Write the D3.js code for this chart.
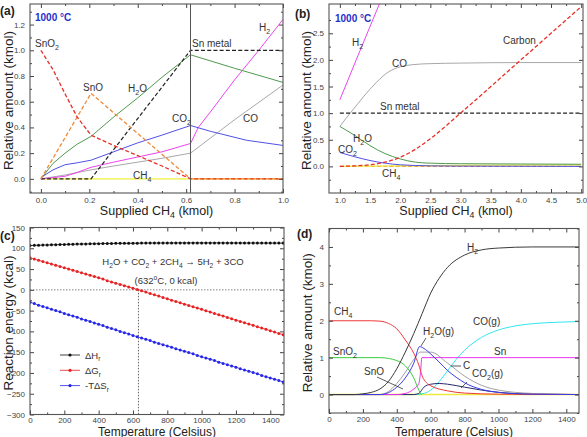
<!DOCTYPE html>
<html>
<head>
<meta charset="utf-8">
<script src="https://cdn.jsdelivr.net/npm/d3@7"></script>
<style>
  body { margin: 0; background: #fff; }
  svg { display: block; }
  text { font-family: "Liberation Sans", Arial, sans-serif; }
</style>
</head>
<body>
<svg id="chart" width="587" height="437"></svg>
<script>
// ---- panel (a): 1000 C, supplied CH4 0..1 kmol ----
const aSnO2 = [[0,1.0],[0.05,0.85],[0.1,0.66],[0.15,0.48],[0.207,0.34],[0.3,0.26],[0.4,0.18],[0.5,0.1],[0.618,0.0],[1.0,0.0]];
const aSnO  = [[0,0],[0.207,0.665],[0.618,0],[1.0,0]];
const aSn   = [[0,0],[0.207,0],[0.618,1.0],[1.0,1.0]];
const aH2O  = [[0,0],[0.05,0.12],[0.1,0.2],[0.15,0.27],[0.207,0.33],[0.3,0.48],[0.4,0.63],[0.5,0.79],[0.618,0.965],[0.8,0.86],[1.0,0.75]];
const aCO2  = [[0,0.01],[0.05,0.07],[0.1,0.11],[0.15,0.125],[0.207,0.145],[0.3,0.21],[0.4,0.28],[0.5,0.34],[0.618,0.415],[0.7,0.37],[0.85,0.3],[1.0,0.26]];
const aH2   = [[0,0],[0.1,0.02],[0.15,0.05],[0.207,0.09],[0.3,0.13],[0.4,0.17],[0.5,0.21],[0.618,0.275],[0.65,0.4],[0.7,0.52],[0.8,0.77],[0.9,1.0],[1.0,1.24]];
const aCO   = [[0,0],[0.1,0.03],[0.207,0.07],[0.3,0.1],[0.4,0.13],[0.5,0.16],[0.618,0.2],[0.8,0.46],[1.0,0.73]];
const aCH4  = [[0,0],[1.0,0]];

// ---- panel (b): 1000 C, supplied CH4 1..5 kmol ----
const bH2   = [[1.0,1.25],[1.3,2.08],[1.6,2.9],[1.8,3.45]];
const bCO   = [[1.0,0.75],[1.1,0.9],[1.2,1.04],[1.3,1.18],[1.4,1.32],[1.5,1.45],[1.6,1.57],[1.7,1.68],[1.8,1.77],[1.9,1.83],[2.0,1.87],[2.2,1.91],[2.5,1.93],[3.0,1.94],[4.0,1.95],[5.0,1.95]];
const bSn   = [[1.0,1.0],[5.0,1.0]];
const bH2O  = [[1.0,0.75],[1.25,0.58],[1.5,0.39],[1.75,0.24],[2.0,0.14],[2.25,0.08],[2.5,0.06],[3.0,0.05],[4.0,0.045],[5.0,0.04]];
const bCO2  = [[1.0,0.26],[1.25,0.18],[1.5,0.11],[1.75,0.06],[2.0,0.03],[2.5,0.01],[3.0,0.005],[5.0,0.0]];
const bC    = [[1.0,0.0],[1.25,0.01],[1.5,0.03],[1.75,0.08],[2.0,0.17],[2.25,0.32],[2.5,0.52],[3.0,1.0],[4.0,2.0],[5.0,3.0]];
const bCH4  = [[1.0,0.0],[2.0,0.01],[3.0,0.02],[5.0,0.03]];
const bSnO  = [[1.0,0.0],[5.0,0.0]];

// ---- panel (c): reaction energies vs temperature ----
const cTemp = d3.range(0, 1500, 25);
const cDH = [106.5,107,107.3,107.6,108,108.3,108.6,108.9,109.2,109.5,
             109.8,110,110.3,110.5,110.7,110.9,111.1,111.3,111.5,111.6,
             111.8,111.9,112,112.1,112.2,112.3,112.4,112.5,112.6,112.6,
             112.7,112.7,112.8,112.8,112.8,112.9,112.9,112.9,112.9,112.9,
             112.9,112.9,112.9,112.9,112.9,112.8,112.8,112.8,112.8,112.7,
             112.7,112.7,112.6,112.6,112.6,112.5,112.5,112.5,112.4,112.4];
const cDG = [77,74,71,68,65,62,59,56,53,50,
             47,44,41,38,35,32,29,26,22,19,
             16,13,10,7,4,1,-2,-5.5,-9,-12,
             -15,-18.5,-21.5,-25,-28,-31,-34.5,-37.5,-41,-44,
             -47,-50.5,-53.5,-57,-60,-63,-66.5,-69.5,-73,-76,
             -79,-82.5,-85.5,-89,-92,-95,-98.5,-101.5,-105,-108];
const cTS = [-30,-33,-37,-40,-43,-47,-50,-53,-57,-60,
             -63,-66,-70,-73,-76,-80,-83,-86,-90,-93,
             -96,-100,-103,-106,-110,-113,-116,-119,-122,-126,
             -129,-132,-135,-138,-142,-145,-148,-151,-154,-158,
             -161,-164,-167,-170,-174,-177,-180,-183,-186,-190,
             -193,-196,-199,-202,-206,-209,-212,-215,-218,-222];
const cCross = [632, 0];

// ---- panel (d): equilibrium amounts vs temperature ----
const dH2   = [[0,0],[150,0],[200,0.02],[250,0.06],[300,0.15],[350,0.35],[400,0.7],[450,1.15],[500,1.65],[550,2.2],[600,2.75],[650,3.15],[700,3.45],[800,3.78],[900,3.92],[1000,3.97],[1200,4.0],[1475,4.0]];
const dCH4  = [[0,2],[250,2],[300,1.99],[350,1.93],[400,1.78],[450,1.48],[500,1.12],[530,0.8],[550,0.5],[575,0.32],[600,0.24],[700,0.1],[800,0.04],[1000,0.01],[1475,0]];
const dSnO2 = [[0,1],[300,1],[350,0.98],[400,0.92],[450,0.78],[500,0.45],[530,0.12],[545,0]];
const dSn   = [[0,0],[400,0],[450,0.03],[500,0.15],[530,0.3],[540,0.6],[548,1.0],[1475,1.0]];
const dH2O  = [[0,0],[300,0],[350,0.05],[400,0.2],[450,0.45],[500,0.85],[535,1.3],[560,1.25],[600,1.1],[650,0.88],[700,0.65],[750,0.47],[800,0.32],[900,0.14],[1000,0.06],[1200,0.01],[1475,0]];
const dC    = [[0,0],[300,0],[350,0.08],[400,0.3],[450,0.6],[500,0.95],[540,1.15],[600,1.15],[700,0.85],[800,0.5],[900,0.25],[1000,0.12],[1200,0.03],[1475,0]];
const dCO2  = [[0,0],[500,0],[530,0.03],[560,0.2],[600,0.28],[650,0.3],[700,0.28],[800,0.2],[900,0.12],[1000,0.06],[1200,0.01],[1475,0]];
const dCO   = [[0,0],[500,0],[550,0.02],[600,0.12],[650,0.35],[700,0.65],[750,0.95],[800,1.2],[900,1.55],[1000,1.75],[1100,1.86],[1200,1.92],[1350,1.96],[1475,1.98]];
const dBase = [[0,0],[1475,0]];

const svg = d3.select("#chart");

// text with "_x" subscripts and "^x" superscripts
function rich(sel, str, fs) {
  let i = 0, buf = "", shift = 0;
  const flush = () => {
    if (!buf) return;
    sel.append("tspan").attr("dy", -shift).text(buf);
    shift = 0; buf = "";
  };
  while (i < str.length) {
    const ch = str[i];
    if ((ch === "_" || ch === "^") && i + 1 < str.length) {
      flush();
      const d = ch === "_" ? fs * 0.3 : -fs * 0.4;
      sel.append("tspan").attr("dy", d).style("font-size", (fs * 0.7) + "px").text(str[i + 1]);
      shift = d;
      i += 2;
    } else {
      buf += ch;
      i += 1;
    }
  }
  flush();
  return sel;
}

function label(g, str, x, y, opts) {
  opts = opts || {};
  const fs = opts.fs || 10;
  const t = g.append("text").attr("x", x).attr("y", y)
    .style("font-size", fs + "px")
    .attr("fill", opts.fill || "#333")
    .attr("text-anchor", opts.anchor || "start");
  if (opts.bold) t.style("font-weight", "bold");
  if (opts.rotate) t.attr("transform", `rotate(-90,${x},${y})`);
  return rich(t, str, fs);
}

function makePanel(o) {
  const g = svg.append("g");
  const x = d3.scaleLinear().domain(o.xd).range([o.l, o.r]);
  const y = d3.scaleLinear().domain(o.yd).range([o.b, o.t]);
  svg.append("clipPath").attr("id", "clip" + o.id).append("rect")
    .attr("x", o.l).attr("y", o.t).attr("width", o.r - o.l).attr("height", o.b - o.t);
  const plot = g.append("g").attr("clip-path", `url(#clip${o.id})`);

  const addAxis = (axis, tr) => {
    const a = g.append("g").attr("transform", tr).call(axis);
    a.select(".domain").remove();
    a.selectAll("line").attr("stroke", "#444");
    a.selectAll("text").attr("fill", "#444").style("font-size", "8px")
      .style("font-family", "'Liberation Sans', Arial, sans-serif");
    return a;
  };
  addAxis(d3.axisBottom(x).tickValues(o.xt).tickSize(-4).tickPadding(o.xpad).tickFormat(o.xf), `translate(0,${o.b})`);
  addAxis(d3.axisBottom(x).tickValues(o.xm).tickSize(-2).tickFormat(""), `translate(0,${o.b})`);
  addAxis(d3.axisTop(x).tickValues(o.xt).tickSize(-4).tickFormat(""), `translate(0,${o.t})`);
  addAxis(d3.axisTop(x).tickValues(o.xm).tickSize(-2).tickFormat(""), `translate(0,${o.t})`);
  addAxis(d3.axisLeft(y).tickValues(o.yt).tickSize(-4).tickPadding(5).tickFormat(o.yf), `translate(${o.l},0)`);
  addAxis(d3.axisLeft(y).tickValues(o.ym).tickSize(-2).tickFormat(""), `translate(${o.l},0)`);
  addAxis(d3.axisRight(y).tickValues(o.yt).tickSize(-4).tickFormat(""), `translate(${o.r},0)`);
  addAxis(d3.axisRight(y).tickValues(o.ym).tickSize(-2).tickFormat(""), `translate(${o.r},0)`);

  g.append("rect").attr("x", o.l).attr("y", o.t).attr("width", o.r - o.l).attr("height", o.b - o.t)
    .attr("fill", "none").attr("stroke", "#555").attr("stroke-width", 1.1);

  label(g, o.xtitle, (o.l + o.r) / 2, o.b + o.xtDy, { fs: o.xfs, anchor: "middle", fill: "#222" });
  label(g, o.ytitle, o.ytX, (o.t + o.b) / 2 + 2, { fs: 13.5, anchor: "middle", fill: "#222", rotate: true });
  label(g, o.tag, o.tagX, o.tagY, { fs: 12, fill: "#222", bold: true });
  return { g, plot, x, y };
}

function drawLine(P, data, color, opts) {
  opts = opts || {};
  const line = d3.line().x(d => P.x(d[0])).y(d => P.y(d[1])).curve(opts.curve || d3.curveLinear);
  return P.plot.append("path").datum(data).attr("d", line)
    .attr("fill", "none").attr("stroke", color)
    .attr("stroke-width", opts.w || 1)
    .attr("stroke-dasharray", opts.dash || null);
}

const f1 = d3.format(".1f");
const fi = d3.format("d");
const dash = "4,2.2";

// ---------------- (a) ----------------
const A = makePanel({
  id: "a", l: 30, r: 283, t: 4, b: 193,
  xd: [-0.045, 1.0], yd: [-0.11, 1.36],
  xt: d3.range(0, 1.01, 0.2), xm: d3.range(0.1, 1.0, 0.2), xf: f1, xpad: 4,
  yt: d3.range(0, 1.21, 0.2), ym: d3.range(-0.1, 1.36, 0.2), yf: f1,
  xtitle: "Supplied CH_4 (kmol)", xtDy: 21.5, xfs: 12.5,
  ytitle: "Relative amount (kmol)", ytX: 13,
  tag: "(a)", tagX: 0, tagY: 15
});
drawLine(A, aCH4, "#f2ee3a", { w: 1.4 });
drawLine(A, aCO, "#a8a8a8", { w: 1 });
drawLine(A, aH2, "#ee44ee", { w: 1 });
drawLine(A, aCO2, "#5050e8", { w: 1 });
drawLine(A, aH2O, "#4f9a4f", { w: 1 });
drawLine(A, aSn, "#222", { w: 1.2, dash: dash });
drawLine(A, aSnO, "#f08a36", { w: 1.3, dash: dash });
drawLine(A, aSnO2, "#e8302a", { w: 1.3, dash: dash });
A.plot.append("line").attr("x1", A.x(0.618)).attr("x2", A.x(0.618)).attr("y1", 4).attr("y2", 193)
  .attr("stroke", "#555").attr("stroke-width", 1);
label(A.g, "1000 °C", 35, 21, { fill: "#2630c8", bold: true });
label(A.g, "SnO_2", 35, 47);
label(A.g, "SnO", 83, 91);
label(A.g, "H_2O", 128, 92);
label(A.g, "CO_2", 172, 122);
label(A.g, "Sn metal", 192, 47);
label(A.g, "H_2", 259, 31);
label(A.g, "CO", 243, 122);
label(A.g, "CH_4", 133, 179);

// ---------------- (b) ----------------
const B = makePanel({
  id: "b", l: 329, r: 583, t: 4, b: 193,
  xd: [0.82, 5.03], yd: [-0.5, 3.05],
  xt: d3.range(1, 5.01, 0.5), xm: d3.range(1.25, 5, 0.5), xf: f1, xpad: 4,
  yt: d3.range(0, 2.51, 0.5), ym: d3.range(-0.25, 3.0, 0.5), yf: f1,
  xtitle: "Supplied CH_4 (kmol)", xtDy: 21.5, xfs: 12.5,
  ytitle: "Relative amount (kmol)", ytX: 311,
  tag: "(b)", tagX: 295, tagY: 18
});
drawLine(B, bSnO, "#f08a36", { w: 1.2, dash: dash });
drawLine(B, bCH4, "#eeea40", { w: 1.3 });
drawLine(B, bCO2, "#5050e8", { w: 1, curve: d3.curveMonotoneX });
drawLine(B, bH2O, "#4f9a4f", { w: 1, curve: d3.curveMonotoneX });
drawLine(B, bCO, "#a8a8a8", { w: 1, curve: d3.curveMonotoneX });
drawLine(B, bH2, "#ee44ee", { w: 1 });
drawLine(B, bSn, "#222", { w: 1.2, dash: dash });
drawLine(B, bC, "#e8302a", { w: 1.3, dash: dash, curve: d3.curveMonotoneX });
label(B.g, "1000 °C", 335, 22, { fill: "#2630c8", bold: true });
label(B.g, "H_2", 352, 46);
label(B.g, "CO", 392, 67);
label(B.g, "Carbon", 503, 44);
label(B.g, "Sn metal", 380, 110);
label(B.g, "H_2O", 353, 142);
label(B.g, "CO_2", 338, 153);
label(B.g, "CH_4", 382, 177);

// ---------------- (c) ----------------
const C = makePanel({
  id: "c", l: 30, r: 284, t: 227.5, b: 414.5,
  xd: [0, 1480], yd: [-300, 150],
  xt: d3.range(0, 1401, 200), xm: d3.range(100, 1480, 200), xf: fi, xpad: 3,
  yt: d3.range(-300, 151, 50), ym: d3.range(-275, 150, 50), yf: fi,
  xtitle: "Temperature (Celsius)", xtDy: 21, xfs: 12,
  ytitle: "Reaction energy (kcal)", ytX: 12.5,
  tag: "(c)", tagX: 0, tagY: 240
});
C.plot.append("line").attr("x1", 30).attr("x2", 284).attr("y1", C.y(0)).attr("y2", C.y(0))
  .attr("stroke", "#888").attr("stroke-dasharray", "1.5,1.5");
C.plot.append("line").attr("x1", C.x(cCross[0])).attr("x2", C.x(cCross[0]))
  .attr("y1", C.y(cCross[1])).attr("y2", 414.5)
  .attr("stroke", "#666").attr("stroke-dasharray", "1.5,1.5");
const cSeries = [
  { vals: cDH, color: "#111", name: "ΔH_r" },
  { vals: cDG, color: "#e82222", name: "ΔG_r" },
  { vals: cTS, color: "#2626e8", name: "-TΔS_r" }
];
cSeries.forEach(s => {
  const pts = cTemp.map((t, i) => [t, s.vals[i]]);
  drawLine(C, pts, s.color, { w: 0.8 });
  C.plot.selectAll(null).data(pts).enter().append("circle")
    .attr("cx", d => C.x(d[0])).attr("cy", d => C.y(d[1])).attr("r", 1.5).attr("fill", s.color);
});
cSeries.forEach((s, i) => {
  const ly = 355 + i * 15.3;
  C.g.append("line").attr("x1", 60).attr("x2", 80).attr("y1", ly).attr("y2", ly).attr("stroke", s.color).attr("stroke-width", 0.8);
  C.g.append("circle").attr("cx", 70).attr("cy", ly).attr("r", 1.6).attr("fill", s.color);
  label(C.g, s.name, 85, ly + 3.5, { fs: 9.5 });
});
label(C.g, "H_2O + CO_2 + 2CH_4 → 5H_2 + 3CO", 173, 265, { fs: 9.5, anchor: "middle" });
label(C.g, "(632^oC, 0 kcal)", 166, 284, { fs: 9.5, anchor: "middle" });

// ---------------- (d) ----------------
const D = makePanel({
  id: "d", l: 329, r: 579, t: 228.5, b: 413,
  xd: [0, 1475], yd: [-0.5, 4.5],
  xt: d3.range(0, 1401, 200), xm: d3.range(100, 1475, 200), xf: fi, xpad: 3,
  yt: d3.range(0, 4.1, 1), ym: d3.range(-0.5, 4.6, 1), yf: fi,
  xtitle: "Temperature (Celsius)", xtDy: 22.5, xfs: 12,
  ytitle: "Relative amount (kmol)", ytX: 312,
  tag: "(d)", tagX: 297, tagY: 238
});
const mc = { w: 1, curve: d3.curveMonotoneX };
drawLine(D, dBase, "#eeea40", { w: 1.4 });
drawLine(D, dCO, "#33e6ee", mc);
drawLine(D, dCO2, "#2a2a6a", mc);
drawLine(D, dC, "#a0a0a0", mc);
drawLine(D, dSn, "#ee33ee", mc);
drawLine(D, dSnO2, "#3ccc3c", mc);
drawLine(D, dCH4, "#ee3838", mc);
drawLine(D, dH2O, "#3a3ae8", mc);
drawLine(D, dH2, "#3a3a3a", mc);
label(D.g, "H_2", 467, 251);
label(D.g, "CH_4", 334, 315);
label(D.g, "CO(g)", 473, 325);
label(D.g, "H_2O(g)", 423, 335);
label(D.g, "SnO_2", 333, 355);
label(D.g, "Sn", 494, 355);
label(D.g, "C", 463, 369);
label(D.g, "CO_2(g)", 472, 377);
label(D.g, "SnO", 364, 375);
const arrows = [
  [[426, 338], [421, 346]],
  [[461, 366], [451, 366]],
  [[467, 382], [461, 388]],
  [[377, 377], [403, 389]]
];
arrows.forEach(a => {
  D.g.append("line").attr("x1", a[0][0]).attr("y1", a[0][1]).attr("x2", a[1][0]).attr("y2", a[1][1])
    .attr("stroke", "#333").attr("stroke-width", 0.8);
});
</script>
</body>
</html>
